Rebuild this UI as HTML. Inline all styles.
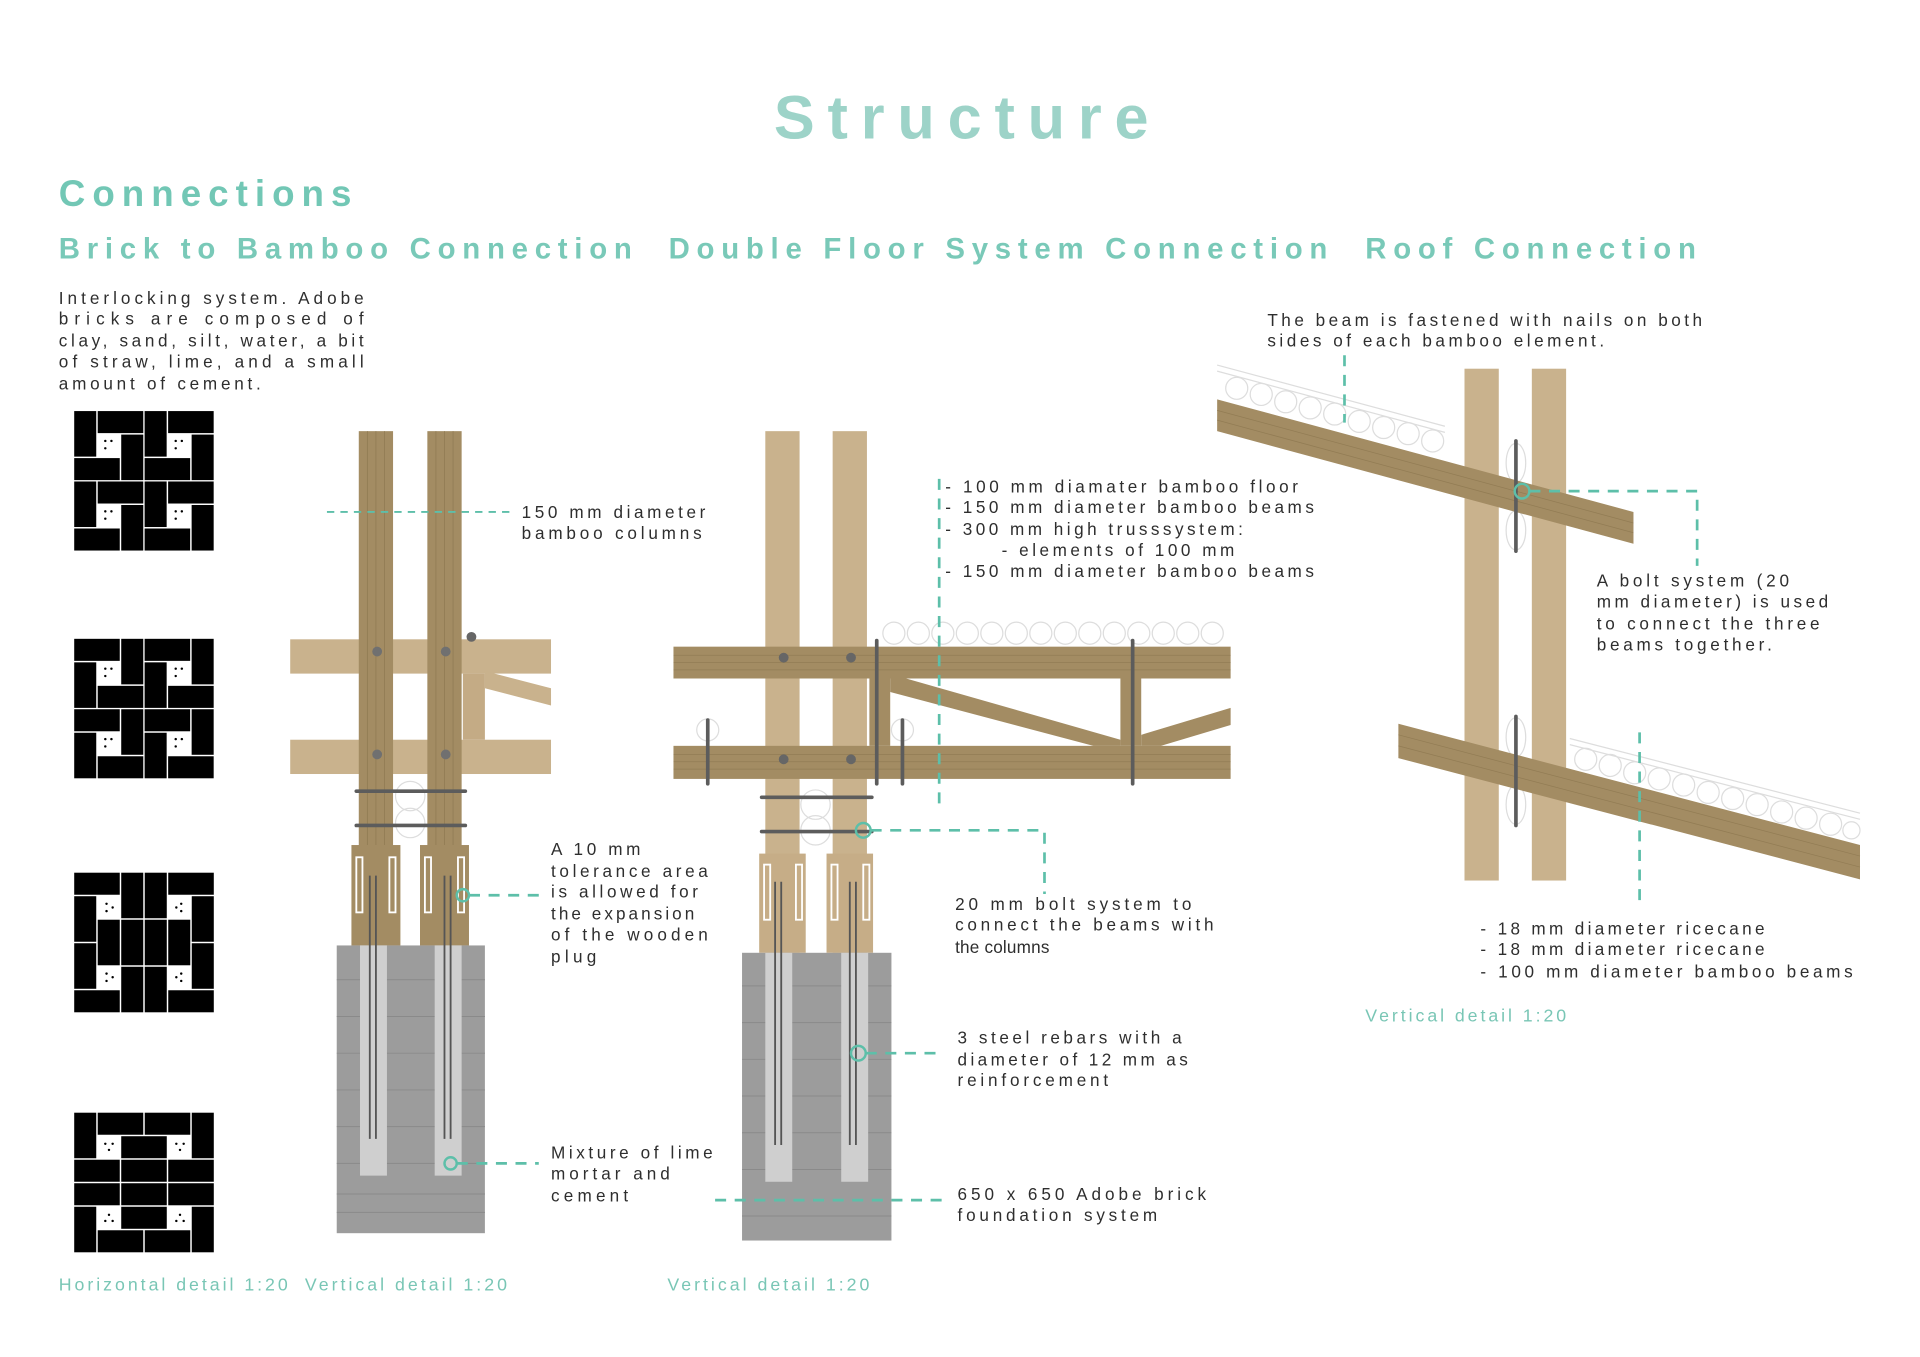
<!DOCTYPE html>
<html><head><meta charset="utf-8"><style>
html,body{margin:0;padding:0;background:#fff;}
svg{display:block;}
text{font-family:"Liberation Sans",sans-serif;}
.t{font-size:14px;fill:#2e2e2e;}
.c{font-size:14.5px;fill:#79c6b5;}
.d{stroke:#5dbfa9;stroke-width:2.2;stroke-dasharray:9 7;fill:none;}
.ring{stroke:#5dbfa9;stroke-width:2;fill:none;}
.bolt{stroke:#5c5c5c;stroke-width:3;stroke-linecap:round;}
</style></head><body>
<svg width="1920" height="1357" viewBox="0 0 1568 1108" xmlns="http://www.w3.org/2000/svg">
<defs>
<g id="u1" fill="#000"><rect x="0.6" y="0.6" width="18" height="37.2"/><rect x="19.8" y="0.6" width="37.2" height="18"/><rect x="39" y="19.8" width="18" height="37.2"/><rect x="0.6" y="39" width="37.2" height="18"/><circle cx="26" cy="25" r="1" /><circle cx="31" cy="25" r="1"/><circle cx="26" cy="31" r="1"/></g>
<g id="u2" fill="#000"><rect x="0.6" y="0.6" width="37.2" height="18"/><rect x="39" y="0.6" width="18" height="37.2"/><rect x="19.8" y="39" width="37.2" height="18"/><rect x="0.6" y="19.8" width="18" height="37.2"/><circle cx="26" cy="25" r="1"/><circle cx="31" cy="25" r="1"/><circle cx="26" cy="31" r="1"/></g>
</defs>
<rect width="1568" height="1108" fill="#fff"/>

<!-- headings -->
<text x="785" y="113" text-anchor="middle" font-size="50" font-weight="bold" fill="#9dd3c8" textLength="306" lengthAdjust="spacing">Structure</text>
<text x="48" y="168" font-size="30" font-weight="bold" fill="#72c7b5" textLength="239" lengthAdjust="spacing">Connections</text>
<text x="48" y="211" font-size="24" font-weight="bold" fill="#79c9b8" textLength="468" lengthAdjust="spacing">Brick to Bamboo Connection</text>
<text x="546" y="211" font-size="24" font-weight="bold" fill="#79c9b8" textLength="538" lengthAdjust="spacing">Double Floor System Connection</text>
<text x="1115" y="211" font-size="24" font-weight="bold" fill="#79c9b8" textLength="270" lengthAdjust="spacing">Roof Connection</text>

<!-- left paragraph -->
<text class="t" x="48" y="248" textLength="249" lengthAdjust="spacing">Interlocking system. Adobe</text>
<text class="t" x="48" y="265" textLength="249" lengthAdjust="spacing">bricks are composed of</text>
<text class="t" x="48" y="283" textLength="249" lengthAdjust="spacing">clay, sand, silt, water, a bit</text>
<text class="t" x="48" y="300" textLength="249" lengthAdjust="spacing">of straw, lime, and a small</text>
<text class="t" x="48" y="318" textLength="165" lengthAdjust="spacing">amount of cement.</text>

<!-- brick patterns -->
<g transform="translate(60,335)" ><rect width="115" height="115" fill="#fff"/><use href="#u1"/><use href="#u1" x="57.5"/><use href="#u1" y="57.5"/><use href="#u1" x="57.5" y="57.5"/></g>
<g transform="translate(60,521)"><use href="#u2"/><use href="#u2" x="57.5"/><use href="#u2" y="57.5"/><use href="#u2" x="57.5" y="57.5"/></g>
<g transform="translate(60,712)" fill="#000">
<rect x="0.6" y="0.6" width="37.2" height="18"/><rect x="39" y="0.6" width="18" height="37.2"/><rect x="58.2" y="0.6" width="18" height="37.2"/><rect x="77.4" y="0.6" width="37.2" height="18"/>
<rect x="0.6" y="19.8" width="18" height="37.2"/><rect x="96.6" y="19.8" width="18" height="37.2"/>
<rect x="19.8" y="39" width="18" height="37.2"/><rect x="39" y="39" width="18" height="37.2"/><rect x="58.2" y="39" width="18" height="37.2"/><rect x="77.4" y="39" width="18" height="37.2"/>
<rect x="0.6" y="58.2" width="18" height="37.2"/><rect x="96.6" y="58.2" width="18" height="37.2"/>
<rect x="39" y="77.4" width="18" height="37.2"/><rect x="58.2" y="77.4" width="18" height="37.2"/>
<rect x="0.6" y="96.6" width="37.2" height="18"/><rect x="77.4" y="96.6" width="37.2" height="18"/>
<circle cx="27" cy="26" r="1"/><circle cx="32" cy="29" r="1"/><circle cx="27" cy="32" r="1"/><circle cx="88" cy="26" r="1"/><circle cx="84" cy="29" r="1"/><circle cx="88" cy="32" r="1"/>
<circle cx="27" cy="83" r="1"/><circle cx="32" cy="86" r="1"/><circle cx="27" cy="89" r="1"/><circle cx="88" cy="83" r="1"/><circle cx="84" cy="86" r="1"/><circle cx="88" cy="89" r="1"/>
</g>
<g transform="translate(60,908)" fill="#000">
<rect x="0.6" y="0.6" width="18" height="37.2"/><rect x="19.8" y="0.6" width="37.2" height="18"/><rect x="58.2" y="0.6" width="37.2" height="18"/><rect x="96.6" y="0.6" width="18" height="37.2"/>
<rect x="39" y="19.8" width="37.2" height="18"/>
<rect x="0.6" y="39" width="37.2" height="18"/><rect x="39" y="39" width="37.2" height="18"/><rect x="77.4" y="39" width="37.2" height="18"/>
<rect x="0.6" y="58.2" width="37.2" height="18"/><rect x="39" y="58.2" width="37.2" height="18"/><rect x="77.4" y="58.2" width="37.2" height="18"/>
<rect x="0.6" y="77.4" width="18" height="37.2"/><rect x="39" y="77.4" width="37.2" height="18"/><rect x="96.6" y="77.4" width="18" height="37.2"/>
<rect x="19.8" y="96.6" width="37.2" height="18"/><rect x="58.2" y="96.6" width="37.2" height="18"/>
<circle cx="26" cy="26" r="1"/><circle cx="32" cy="26" r="1"/><circle cx="29" cy="31" r="1"/><circle cx="84" cy="26" r="1"/><circle cx="90" cy="26" r="1"/><circle cx="87" cy="31" r="1"/>
<circle cx="29" cy="84" r="1"/><circle cx="26" cy="89" r="1"/><circle cx="32" cy="89" r="1"/><circle cx="87" cy="84" r="1"/><circle cx="84" cy="89" r="1"/><circle cx="90" cy="89" r="1"/>
</g>

<!-- LEFT DETAIL -->
<g>
<rect x="237" y="522" width="213" height="28" fill="#c9b28d"/>
<rect x="237" y="604" width="213" height="28" fill="#c9b28d"/>
<rect x="378" y="550" width="18" height="54" fill="#c4ab85"/>
<polygon points="396,548 450,562 450,576 396,562" fill="#c9b28d"/>
<circle cx="385" cy="520" r="4" fill="#666"/>
<rect x="293" y="352" width="28" height="340" fill="#a38c63"/>
<rect x="349" y="352" width="28" height="340" fill="#a38c63"/>
<g stroke="#8f7a52" stroke-width="0.6"><line x1="300" y1="352" x2="300" y2="690"/><line x1="307" y1="352" x2="307" y2="690"/><line x1="314" y1="352" x2="314" y2="690"/><line x1="356" y1="352" x2="356" y2="690"/><line x1="363" y1="352" x2="363" y2="690"/><line x1="370" y1="352" x2="370" y2="690"/></g>
<g fill="#707070"><circle cx="308" cy="532" r="4"/><circle cx="364" cy="532" r="4"/><circle cx="308" cy="616" r="4"/><circle cx="364" cy="616" r="4"/></g>
<circle cx="335" cy="650" r="12" fill="none" stroke="#ddd"/><circle cx="335" cy="672" r="12" fill="none" stroke="#ddd"/>
<line class="bolt" x1="291" y1="646" x2="380" y2="646"/><line class="bolt" x1="291" y1="674" x2="380" y2="674"/>
<rect x="287" y="690" width="40" height="82" fill="#a38c63"/>
<rect x="343" y="690" width="40" height="82" fill="#a38c63"/>
<g fill="none" stroke="#fff" stroke-width="1.5"><rect x="291" y="700" width="5" height="45"/><rect x="318" y="700" width="5" height="45"/><rect x="347" y="700" width="5" height="45"/><rect x="374" y="700" width="5" height="45"/></g>
<rect x="275" y="772" width="121" height="235" fill="#9c9c9c"/>
<g stroke="#8a8a8a" stroke-width="0.8"><line x1="275" y1="800" x2="396" y2="800"/><line x1="275" y1="830" x2="396" y2="830"/><line x1="275" y1="860" x2="396" y2="860"/><line x1="275" y1="890" x2="396" y2="890"/><line x1="275" y1="920" x2="396" y2="920"/><line x1="275" y1="950" x2="396" y2="950"/><line x1="275" y1="975" x2="396" y2="975"/><line x1="275" y1="990" x2="396" y2="990"/></g>
<rect x="294" y="772" width="22" height="188" fill="#cfcfcf"/>
<rect x="355" y="772" width="22" height="188" fill="#cfcfcf"/>
<g stroke="#555" stroke-width="1.5"><line x1="302" y1="715" x2="302" y2="930"/><line x1="307" y1="715" x2="307" y2="930"/><line x1="363" y1="715" x2="363" y2="930"/><line x1="368" y1="715" x2="368" y2="930"/></g>
</g>
<line class="d" x1="267" y1="418" x2="420" y2="418" style="stroke-width:1.5;stroke-dasharray:6 5"/>
<text class="t" x="426" y="423" textLength="150" lengthAdjust="spacing">150 mm diameter</text>
<text class="t" x="426" y="440" textLength="147" lengthAdjust="spacing">bamboo columns</text>
<circle class="ring" cx="378" cy="731" r="5"/><line class="d" x1="383" y1="731" x2="440" y2="731"/>
<text class="t" x="450" y="698" textLength="73" lengthAdjust="spacing">A 10 mm</text>
<text class="t" x="450" y="716" textLength="128" lengthAdjust="spacing">tolerance area</text>
<text class="t" x="450" y="733" textLength="120" lengthAdjust="spacing">is allowed for</text>
<text class="t" x="450" y="751" textLength="117" lengthAdjust="spacing">the expansion</text>
<text class="t" x="450" y="768" textLength="128" lengthAdjust="spacing">of the wooden</text>
<text class="t" x="450" y="786" textLength="37" lengthAdjust="spacing">plug</text>
<circle class="ring" cx="368" cy="950" r="5"/><line class="d" x1="373" y1="950" x2="440" y2="950"/>
<text class="t" x="450" y="946" textLength="132" lengthAdjust="spacing">Mixture of lime</text>
<text class="t" x="450" y="963" textLength="97" lengthAdjust="spacing">mortar and</text>
<text class="t" x="450" y="981" textLength="63" lengthAdjust="spacing">cement</text>

<!-- MIDDLE DETAIL -->
<g>
<rect x="625" y="352" width="28" height="426" fill="#c9b28d"/>
<rect x="680" y="352" width="28" height="426" fill="#c9b28d"/>
<g fill="none" stroke="#ddd" stroke-width="1">
<circle cx="730" cy="517" r="9"/><circle cx="750" cy="517" r="9"/><circle cx="770" cy="517" r="9"/><circle cx="790" cy="517" r="9"/><circle cx="810" cy="517" r="9"/><circle cx="830" cy="517" r="9"/><circle cx="850" cy="517" r="9"/><circle cx="870" cy="517" r="9"/><circle cx="890" cy="517" r="9"/><circle cx="910" cy="517" r="9"/><circle cx="930" cy="517" r="9"/><circle cx="950" cy="517" r="9"/><circle cx="970" cy="517" r="9"/><circle cx="990" cy="517" r="9"/>
<circle cx="578" cy="596" r="9"/><circle cx="737" cy="596" r="9"/><circle cx="666" cy="657" r="12"/><circle cx="666" cy="678" r="12"/></g>
<polygon points="727,554 740,554 915,604 915,609 893,609 727,565" fill="#a38c63"/>
<polygon points="932,600 1005,578 1005,592 948,609 932,609" fill="#a38c63"/>
<rect x="710" y="554" width="17" height="55" fill="#a38c63"/>
<rect x="915" y="554" width="17" height="55" fill="#a38c63"/>
<rect x="550" y="528" width="455" height="26" fill="#a38c63"/>
<rect x="550" y="609" width="455" height="27" fill="#a38c63"/>
<g stroke="#927c54" stroke-width="0.6"><line x1="550" y1="535" x2="1005" y2="535"/><line x1="550" y1="541" x2="1005" y2="541"/><line x1="550" y1="547" x2="1005" y2="547"/><line x1="550" y1="616" x2="1005" y2="616"/><line x1="550" y1="622" x2="1005" y2="622"/><line x1="550" y1="628" x2="1005" y2="628"/></g>
<g fill="#666"><circle cx="640" cy="537" r="4"/><circle cx="695" cy="537" r="4"/><circle cx="640" cy="620" r="4"/><circle cx="695" cy="620" r="4"/></g>
<line class="bolt" x1="716" y1="523" x2="716" y2="640"/><line class="bolt" x1="925" y1="523" x2="925" y2="640"/>
<line class="bolt" x1="578" y1="588" x2="578" y2="640"/><line class="bolt" x1="737" y1="588" x2="737" y2="640"/>
<line class="bolt" x1="622" y1="651" x2="712" y2="651"/><line class="bolt" x1="622" y1="679" x2="712" y2="679"/>
<rect x="620" y="697" width="38" height="81" fill="#c6ad87"/>
<rect x="675" y="697" width="38" height="81" fill="#c6ad87"/>
<g fill="none" stroke="#fff" stroke-width="1.5"><rect x="624" y="706" width="5" height="45"/><rect x="650" y="706" width="5" height="45"/><rect x="679" y="706" width="5" height="45"/><rect x="705" y="706" width="5" height="45"/></g>
<rect x="606" y="778" width="122" height="235" fill="#9c9c9c"/>
<g stroke="#8a8a8a" stroke-width="0.8"><line x1="606" y1="805" x2="728" y2="805"/><line x1="606" y1="835" x2="728" y2="835"/><line x1="606" y1="865" x2="728" y2="865"/><line x1="606" y1="895" x2="728" y2="895"/><line x1="606" y1="925" x2="728" y2="925"/><line x1="606" y1="955" x2="728" y2="955"/><line x1="606" y1="993" x2="728" y2="993"/></g>
<rect x="625" y="778" width="22" height="187" fill="#cfcfcf"/>
<rect x="687" y="778" width="22" height="187" fill="#cfcfcf"/>
<g stroke="#555" stroke-width="1.5"><line x1="633" y1="720" x2="633" y2="935"/><line x1="638" y1="720" x2="638" y2="935"/><line x1="694" y1="720" x2="694" y2="935"/><line x1="699" y1="720" x2="699" y2="935"/></g>
</g>
<line class="d" x1="767" y1="391" x2="767" y2="662"/>
<text class="t" x="772" y="402" textLength="288" lengthAdjust="spacing">- 100 mm diamater bamboo floor</text>
<text class="t" x="772" y="419" textLength="301" lengthAdjust="spacing">- 150 mm diameter bamboo beams</text>
<text class="t" x="772" y="437" textLength="243" lengthAdjust="spacing">- 300 mm high trusssystem:</text>
<text class="t" x="818" y="454" textLength="190" lengthAdjust="spacing">- elements of 100 mm</text>
<text class="t" x="772" y="471" textLength="301" lengthAdjust="spacing">- 150 mm diameter bamboo beams</text>
<circle class="ring" cx="705" cy="678" r="6"/><polyline class="d" points="711,678 853,678 853,730"/>
<text class="t" x="780" y="743" textLength="193" lengthAdjust="spacing">20 mm bolt system to</text>
<text class="t" x="780" y="760" textLength="211" lengthAdjust="spacing">connect the beams with</text>
<text class="t" x="780" y="778" textLength="77" lengthAdjust="spacing">the columns</text>
<circle class="ring" cx="701" cy="860" r="6"/><line class="d" x1="707" y1="860" x2="770" y2="860"/>
<text class="t" x="782" y="852" textLength="183" lengthAdjust="spacing">3 steel rebars with a</text>
<text class="t" x="782" y="870" textLength="188" lengthAdjust="spacing">diameter of 12 mm as</text>
<text class="t" x="782" y="887" textLength="123" lengthAdjust="spacing">reinforcement</text>
<line class="d" x1="584" y1="980" x2="772" y2="980"/>
<text class="t" x="782" y="980" textLength="203" lengthAdjust="spacing">650 x 650 Adobe brick</text>
<text class="t" x="782" y="997" textLength="163" lengthAdjust="spacing">foundation system</text>

<!-- RIGHT DETAIL -->
<g>
<rect x="1196" y="301" width="28" height="418" fill="#c9b28d"/>
<rect x="1251" y="301" width="28" height="418" fill="#c9b28d"/>
<g fill="none" stroke="#ddd" stroke-width="1">
<line x1="994" y1="298" x2="1180" y2="348"/><line x1="994" y1="303" x2="1180" y2="353"/>
<line x1="1282" y1="603" x2="1519" y2="664"/><line x1="1282" y1="608" x2="1519" y2="669"/>
<ellipse cx="1238" cy="378" rx="8" ry="16"/><ellipse cx="1238" cy="433" rx="8" ry="16"/>
<ellipse cx="1238" cy="602" rx="8" ry="16"/><ellipse cx="1238" cy="657" rx="8" ry="16"/>
<circle cx="1010" cy="317" r="9"/><circle cx="1030" cy="322" r="9"/><circle cx="1050" cy="328" r="9"/><circle cx="1070" cy="333" r="9"/><circle cx="1090" cy="338" r="9"/><circle cx="1110" cy="344" r="9"/><circle cx="1130" cy="349" r="9"/><circle cx="1150" cy="354" r="9"/><circle cx="1170" cy="360" r="9"/>
<circle cx="1295" cy="620" r="9"/><circle cx="1315" cy="625" r="9"/><circle cx="1335" cy="631" r="9"/><circle cx="1355" cy="636" r="9"/><circle cx="1375" cy="641" r="9"/><circle cx="1395" cy="647" r="9"/><circle cx="1415" cy="652" r="9"/><circle cx="1435" cy="657" r="9"/><circle cx="1455" cy="663" r="9"/><circle cx="1475" cy="668" r="9"/><circle cx="1495" cy="673" r="9"/><circle cx="1512" cy="678" r="7"/>
</g>
<polygon points="994,326 1334,418 1334,444 994,352" fill="#a38c63"/>
<polygon points="1142,591 1519,690 1519,718 1142,619" fill="#a38c63"/>
<g stroke="#927c54" stroke-width="0.6"><line x1="994" y1="335" x2="1334" y2="427"/><line x1="994" y1="343" x2="1334" y2="435"/><line x1="1142" y1="600" x2="1519" y2="699"/><line x1="1142" y1="609" x2="1519" y2="708"/></g>
<line class="bolt" x1="1238" y1="360" x2="1238" y2="450"/>
<line class="bolt" x1="1238" y1="585" x2="1238" y2="674"/>
</g>
<line class="d" x1="1098" y1="290" x2="1098" y2="345"/>
<circle class="ring" cx="1243" cy="401" r="6"/><polyline class="d" points="1249,401 1386,401 1386,462"/>
<line class="d" x1="1339" y1="598" x2="1339" y2="742"/>
<text class="t" x="1035" y="266" textLength="355" lengthAdjust="spacing">The beam is fastened with nails on both</text>
<text class="t" x="1035" y="283" textLength="275" lengthAdjust="spacing">sides of each bamboo element.</text>
<text class="t" x="1304" y="479" textLength="157" lengthAdjust="spacing">A bolt system (20</text>
<text class="t" x="1304" y="496" textLength="189" lengthAdjust="spacing">mm diameter) is used</text>
<text class="t" x="1304" y="514" textLength="182" lengthAdjust="spacing">to connect the three</text>
<text class="t" x="1304" y="531" textLength="143" lengthAdjust="spacing">beams together.</text>
<text class="t" x="1209" y="763" textLength="232" lengthAdjust="spacing">- 18 mm diameter ricecane</text>
<text class="t" x="1209" y="780" textLength="232" lengthAdjust="spacing">- 18 mm diameter ricecane</text>
<text class="t" x="1209" y="798" textLength="304" lengthAdjust="spacing">- 100 mm diameter bamboo beams</text>

<!-- captions -->
<text class="c" x="48" y="1054" textLength="187" lengthAdjust="spacing">Horizontal detail 1:20</text>
<text class="c" x="249" y="1054" textLength="165" lengthAdjust="spacing">Vertical detail 1:20</text>
<text class="c" x="545" y="1054" textLength="165" lengthAdjust="spacing">Vertical detail 1:20</text>
<text class="c" x="1115" y="834" textLength="164" lengthAdjust="spacing">Vertical detail 1:20</text>
</svg>
</body></html>
